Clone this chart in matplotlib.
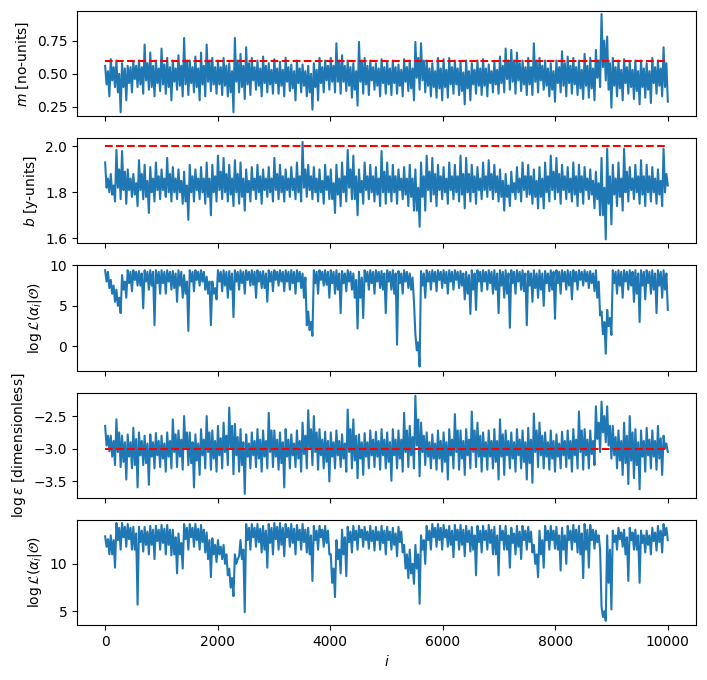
import numpy as np
import matplotlib
matplotlib.use("Agg")
import matplotlib.pyplot as plt

# ---- data: per-100-iteration envelopes ----
# outer extremes (hi / lo) and inner typical band (ihi / ilo)
m_hi = [0.56, 0.61, 0.60, 0.58, 0.56, 0.59, 0.60, 0.72, 0.66, 0.60,
        0.69, 0.62, 0.60, 0.64, 0.77, 0.60, 0.63, 0.66, 0.72, 0.62,
        0.60, 0.62, 0.58, 0.77, 0.65, 0.70, 0.62, 0.60, 0.63, 0.58,
        0.61, 0.59, 0.62, 0.57, 0.60, 0.57, 0.56, 0.58, 0.62, 0.60,
        0.62, 0.73, 0.64, 0.60, 0.58, 0.74, 0.62, 0.60, 0.58, 0.61,
        0.59, 0.60, 0.57, 0.61, 0.60, 0.74, 0.73, 0.60, 0.58, 0.62,
        0.61, 0.62, 0.60, 0.59, 0.60, 0.58, 0.60, 0.61, 0.57, 0.59,
        0.63, 0.69, 0.68, 0.66, 0.60, 0.62, 0.73, 0.62, 0.60, 0.58,
        0.60, 0.67, 0.63, 0.62, 0.60, 0.65, 0.62, 0.68, 0.95, 0.78,
        0.62, 0.60, 0.61, 0.59, 0.60, 0.60, 0.58, 0.62, 0.60, 0.70]
m_lo = [0.33, 0.40, 0.21, 0.30, 0.36, 0.40, 0.35, 0.38, 0.33, 0.37,
        0.35, 0.30, 0.38, 0.33, 0.34, 0.36, 0.30, 0.33, 0.37, 0.35,
        0.34, 0.33, 0.21, 0.36, 0.31, 0.34, 0.38, 0.33, 0.36, 0.35,
        0.35, 0.33, 0.37, 0.30, 0.36, 0.33, 0.23, 0.30, 0.36, 0.38,
        0.36, 0.35, 0.37, 0.32, 0.26, 0.35, 0.34, 0.38, 0.33, 0.35,
        0.34, 0.35, 0.33, 0.37, 0.30, 0.38, 0.36, 0.33, 0.32, 0.30,
        0.32, 0.35, 0.34, 0.27, 0.30, 0.35, 0.34, 0.33, 0.36, 0.35,
        0.36, 0.38, 0.35, 0.37, 0.34, 0.34, 0.36, 0.38, 0.33, 0.29,
        0.36, 0.33, 0.35, 0.34, 0.31, 0.32, 0.30, 0.40, 0.45, 0.245,
        0.33, 0.30, 0.35, 0.31, 0.27, 0.32, 0.28, 0.35, 0.33, 0.29]
m_ihi = [0.52, 0.55, 0.50, 0.54, 0.55, 0.56, 0.55, 0.58, 0.56, 0.54,
         0.57, 0.55, 0.54, 0.56, 0.60, 0.55, 0.54, 0.56, 0.60, 0.55,
         0.55, 0.56, 0.52, 0.60, 0.56, 0.58, 0.55, 0.54, 0.56, 0.53,
         0.54, 0.53, 0.55, 0.52, 0.54, 0.52, 0.50, 0.53, 0.55, 0.56,
         0.56, 0.60, 0.56, 0.55, 0.52, 0.60, 0.56, 0.55, 0.54, 0.55,
         0.54, 0.55, 0.53, 0.55, 0.54, 0.62, 0.60, 0.54, 0.52, 0.54,
         0.53, 0.55, 0.54, 0.51, 0.52, 0.53, 0.54, 0.54, 0.52, 0.53,
         0.56, 0.60, 0.60, 0.58, 0.55, 0.55, 0.60, 0.56, 0.54, 0.52,
         0.55, 0.58, 0.56, 0.55, 0.53, 0.56, 0.54, 0.60, 0.75, 0.58,
         0.55, 0.53, 0.55, 0.53, 0.52, 0.54, 0.52, 0.55, 0.54, 0.58]
m_ilo = [0.42, 0.45, 0.36, 0.40, 0.43, 0.46, 0.42, 0.45, 0.40, 0.43,
         0.42, 0.40, 0.44, 0.41, 0.42, 0.43, 0.40, 0.42, 0.44, 0.42,
         0.42, 0.41, 0.36, 0.44, 0.40, 0.42, 0.45, 0.41, 0.43, 0.42,
         0.43, 0.41, 0.44, 0.39, 0.43, 0.41, 0.36, 0.40, 0.43, 0.45,
         0.44, 0.44, 0.44, 0.41, 0.38, 0.44, 0.42, 0.45, 0.41, 0.43,
         0.42, 0.43, 0.41, 0.44, 0.39, 0.47, 0.45, 0.41, 0.40, 0.39,
         0.40, 0.42, 0.42, 0.37, 0.39, 0.42, 0.41, 0.41, 0.43, 0.42,
         0.43, 0.46, 0.44, 0.45, 0.42, 0.42, 0.44, 0.45, 0.41, 0.38,
         0.43, 0.41, 0.43, 0.42, 0.39, 0.41, 0.39, 0.47, 0.55, 0.38,
         0.41, 0.39, 0.43, 0.40, 0.37, 0.40, 0.38, 0.43, 0.41, 0.40]

b_hi = [1.93, 1.88, 1.985, 1.98, 1.90, 1.88, 1.94, 1.92, 1.91, 1.93,
        1.90, 1.95, 1.91, 1.90, 1.89, 1.92, 1.90, 1.91, 1.93, 1.92,
        1.96, 1.95, 1.92, 1.94, 1.93, 1.90, 1.91, 1.92, 1.90, 1.91,
        1.95, 1.92, 1.90, 1.91, 1.93, 2.02, 1.92, 1.91, 1.90, 1.92,
        1.90, 1.92, 1.93, 1.985, 1.96, 1.90, 1.93, 1.92, 1.91, 1.98,
        1.93, 1.92, 1.90, 1.91, 1.92, 1.90, 1.93, 1.96, 1.95, 1.92,
        1.91, 1.93, 1.92, 1.96, 1.95, 1.92, 1.91, 1.93, 1.94, 1.92,
        1.90, 1.88, 1.89, 1.91, 1.93, 1.92, 1.90, 1.91, 1.93, 1.96,
        1.95, 1.92, 1.91, 1.93, 1.92, 1.91, 1.90, 1.89, 1.95, 1.99,
        1.92, 1.93, 1.99, 1.91, 1.92, 1.94, 1.92, 1.91, 1.90, 1.99]
b_lo = [1.80, 1.76, 1.77, 1.75, 1.78, 1.74, 1.77, 1.71, 1.76, 1.77,
        1.78, 1.76, 1.77, 1.75, 1.68, 1.76, 1.77, 1.75, 1.70, 1.76,
        1.77, 1.76, 1.74, 1.75, 1.72, 1.76, 1.77, 1.75, 1.78, 1.76,
        1.77, 1.76, 1.78, 1.77, 1.76, 1.78, 1.77, 1.76, 1.75, 1.77,
        1.71, 1.74, 1.76, 1.77, 1.70, 1.75, 1.77, 1.76, 1.74, 1.75,
        1.76, 1.75, 1.77, 1.74, 1.72, 1.65, 1.72, 1.76, 1.74, 1.77,
        1.75, 1.77, 1.76, 1.73, 1.76, 1.75, 1.77, 1.78, 1.77, 1.76,
        1.72, 1.74, 1.77, 1.76, 1.78, 1.75, 1.73, 1.73, 1.76, 1.77,
        1.75, 1.77, 1.76, 1.74, 1.75, 1.77, 1.73, 1.70, 1.595, 1.66,
        1.74, 1.72, 1.76, 1.77, 1.75, 1.74, 1.76, 1.75, 1.74, 1.83]
b_ihi = [1.86, 1.83, 1.90, 1.89, 1.86, 1.84, 1.88, 1.85, 1.86, 1.87,
         1.86, 1.88, 1.86, 1.85, 1.83, 1.87, 1.86, 1.86, 1.86, 1.87,
         1.89, 1.88, 1.86, 1.88, 1.86, 1.85, 1.86, 1.87, 1.86, 1.86,
         1.88, 1.87, 1.86, 1.86, 1.87, 1.90, 1.87, 1.86, 1.85, 1.87,
         1.84, 1.86, 1.87, 1.90, 1.87, 1.85, 1.87, 1.87, 1.86, 1.89,
         1.87, 1.87, 1.86, 1.86, 1.86, 1.82, 1.87, 1.89, 1.88, 1.87,
         1.86, 1.87, 1.87, 1.88, 1.88, 1.87, 1.86, 1.87, 1.88, 1.87,
         1.85, 1.83, 1.84, 1.86, 1.87, 1.87, 1.85, 1.86, 1.87, 1.89,
         1.88, 1.87, 1.86, 1.87, 1.87, 1.86, 1.85, 1.84, 1.82, 1.87,
         1.86, 1.86, 1.89, 1.86, 1.87, 1.87, 1.87, 1.86, 1.85, 1.88]
b_ilo = [1.82, 1.79, 1.82, 1.81, 1.81, 1.79, 1.81, 1.78, 1.80, 1.81,
         1.81, 1.80, 1.80, 1.80, 1.76, 1.80, 1.81, 1.80, 1.78, 1.80,
         1.81, 1.80, 1.79, 1.80, 1.78, 1.80, 1.81, 1.80, 1.81, 1.80,
         1.81, 1.80, 1.81, 1.81, 1.80, 1.82, 1.81, 1.80, 1.80, 1.81,
         1.77, 1.79, 1.80, 1.82, 1.77, 1.80, 1.81, 1.80, 1.79, 1.80,
         1.80, 1.80, 1.81, 1.79, 1.78, 1.72, 1.78, 1.81, 1.79, 1.81,
         1.80, 1.81, 1.80, 1.79, 1.80, 1.80, 1.81, 1.81, 1.81, 1.80,
         1.78, 1.78, 1.80, 1.80, 1.81, 1.79, 1.78, 1.78, 1.80, 1.81,
         1.80, 1.81, 1.80, 1.79, 1.80, 1.81, 1.79, 1.77, 1.70, 1.75,
         1.79, 1.78, 1.80, 1.81, 1.80, 1.79, 1.80, 1.80, 1.79, 1.80]

L1_hi = [9.4, 8.2, 7.0, 8.8, 9.4, 9.4, 9.3, 9.4, 9.4, 9.4,
         9.4, 9.4, 9.3, 9.4, 8.8, 9.4, 9.4, 9.4, 8.6, 8.0,
         9.4, 9.4, 9.3, 9.4, 9.4, 9.4, 9.4, 9.4, 9.3, 9.4,
         9.4, 9.4, 9.4, 9.4, 9.4, 9.0, 4.3, 9.4, 9.4, 9.4,
         9.4, 9.4, 9.3, 9.4, 9.0, 9.2, 9.4, 9.4, 9.4, 9.3,
         9.4, 9.4, 9.3, 9.4, 9.0, 1.5, 9.3, 9.4, 9.4, 9.4,
         9.4, 9.4, 9.4, 9.3, 9.2, 9.4, 9.4, 9.4, 9.4, 9.4,
         9.4, 9.4, 9.4, 9.4, 9.4, 9.3, 9.4, 9.4, 9.3, 9.4,
         9.4, 9.4, 9.4, 9.4, 9.4, 9.4, 9.3, 9.4, 4.3, 4.5,
         9.4, 9.4, 9.4, 9.4, 9.4, 9.4, 9.4, 9.4, 9.4, 9.4]
L1_lo = [7.2, 5.5, 4.1, 6.0, 6.8, 7.5, 4.7, 7.0, 2.6, 6.5,
         6.5, 7.0, 5.5, 6.0, 1.9, 6.8, 7.5, 7.0, 2.6, 5.8,
         6.8, 6.0, 3.6, 7.0, 6.5, 7.5, 6.0, 7.2, 5.5, 6.8,
         7.5, 6.8, 7.0, 6.5, 7.2, 2.6, 1.3, 6.5, 7.5, 6.0,
         6.5, 4.1, 6.8, 7.0, 2.2, 3.5, 7.0, 6.5, 7.2, 4.1,
         7.0, 0.2, 6.5, 7.2, 5.5, -2.5, 6.0, 7.0, 6.8, 7.2,
         6.5, 7.0, 7.2, 5.8, 4.0, 4.5, 6.8, 7.0, 6.5, 4.1,
         6.0, 2.3, 6.5, 7.0, 2.6, 5.5, 6.0, 5.0, 6.8, 3.4,
         6.5, 7.0, 5.8, 7.0, 7.5, 7.2, 6.8, 3.8, -0.9, 1.4,
         6.5, 6.0, 7.0, 5.5, 3.0, 5.8, 6.5, 4.1, 6.0, 4.5]
L1_ihi = [9.2, 7.5, 6.0, 8.0, 9.2, 9.2, 9.0, 9.2, 9.2, 9.2,
          9.2, 9.2, 9.0, 9.2, 8.0, 9.2, 9.2, 9.2, 8.0, 7.2,
          9.2, 9.2, 9.0, 9.2, 9.2, 9.2, 9.2, 9.2, 9.0, 9.2,
          9.2, 9.2, 9.2, 9.2, 9.2, 8.5, 3.0, 9.2, 9.2, 9.2,
          9.2, 9.0, 9.0, 9.2, 8.2, 8.5, 9.2, 9.2, 9.2, 9.0,
          9.2, 9.0, 9.0, 9.2, 8.5, 0.5, 9.0, 9.2, 9.2, 9.2,
          9.2, 9.2, 9.2, 9.0, 8.8, 9.0, 9.2, 9.2, 9.2, 9.0,
          9.2, 9.0, 9.2, 9.2, 9.0, 9.0, 9.0, 9.0, 9.0, 9.2,
          9.2, 9.2, 9.2, 9.2, 9.2, 9.2, 9.0, 8.0, 3.0, 3.5,
          9.2, 9.2, 9.2, 9.2, 9.0, 9.2, 9.2, 9.0, 9.2, 9.0]
L1_ilo = [8.0, 6.5, 5.0, 7.0, 7.8, 8.2, 7.5, 8.0, 7.5, 7.8,
          7.8, 8.0, 7.2, 7.5, 6.5, 8.0, 8.2, 8.0, 6.5, 6.5,
          8.0, 7.5, 7.0, 8.0, 7.8, 8.2, 7.6, 8.0, 7.2, 8.0,
          8.2, 8.0, 8.0, 7.8, 8.0, 6.0, 2.0, 7.8, 8.2, 7.6,
          7.8, 7.0, 7.8, 8.0, 6.0, 6.0, 8.0, 7.8, 8.0, 7.0,
          8.0, 6.5, 7.8, 8.0, 7.0, -0.5, 7.5, 8.0, 8.0, 8.2,
          7.8, 8.0, 8.2, 7.5, 6.5, 7.0, 8.0, 8.0, 7.8, 7.0,
          7.5, 6.5, 7.8, 8.0, 6.8, 7.5, 7.2, 7.0, 7.8, 7.0,
          7.8, 8.0, 7.5, 8.0, 8.2, 8.0, 7.8, 6.0, 1.5, 2.5,
          7.8, 7.5, 8.0, 7.5, 6.5, 7.5, 7.8, 7.0, 7.5, 7.0]

eps_hi = [-2.65, -2.80, -2.55, -2.80, -2.78, -2.68, -2.75, -2.80, -2.78, -2.76,
          -2.80, -2.75, -2.55, -2.72, -2.50, -2.75, -2.78, -2.70, -2.50, -2.72,
          -2.65, -2.60, -2.37, -2.62, -2.70, -2.78, -2.75, -2.70, -2.72, -2.45,
          -2.72, -2.75, -2.70, -2.78, -2.72, -2.60, -2.41, -2.50, -2.70, -2.74,
          -2.75, -2.72, -2.78, -2.40, -2.55, -2.78, -2.76, -2.72, -2.74, -2.70,
          -2.75, -2.70, -2.72, -2.45, -2.65, -2.19, -2.60, -2.75, -2.78, -2.72,
          -2.75, -2.70, -2.47, -2.72, -2.70, -2.43, -2.60, -2.75, -2.72, -2.70,
          -2.55, -2.72, -2.75, -2.70, -2.72, -2.68, -2.46, -2.60, -2.75, -2.72,
          -2.78, -2.74, -2.72, -2.70, -2.43, -2.70, -2.72, -2.35, -2.28, -2.35,
          -2.65, -2.72, -2.60, -2.50, -2.70, -2.72, -2.68, -2.72, -2.65, -2.80]
eps_lo = [-3.04, -3.25, -3.28, -3.47, -3.30, -3.59, -3.25, -3.55, -3.30, -3.28,
          -3.35, -3.30, -3.28, -3.32, -3.25, -3.59, -3.40, -3.30, -3.32, -3.35,
          -3.30, -3.25, -3.39, -3.35, -3.69, -3.30, -3.28, -3.35, -3.30, -3.28,
          -3.32, -3.59, -3.30, -3.28, -3.35, -3.30, -3.25, -3.32, -3.30, -3.50,
          -3.30, -3.28, -3.35, -3.30, -3.45, -3.40, -3.30, -3.28, -3.32, -3.30,
          -3.49, -3.30, -3.35, -3.28, -3.30, -3.42, -3.25, -3.30, -3.32, -3.35,
          -3.47, -3.30, -3.32, -3.40, -3.30, -3.28, -3.35, -3.32, -3.30, -3.47,
          -3.40, -3.30, -3.35, -3.30, -3.47, -3.52, -3.28, -3.30, -3.32, -3.35,
          -3.30, -3.28, -3.35, -3.30, -3.32, -3.30, -3.25, -3.05, -2.90, -3.15,
          -3.30, -3.40, -3.54, -3.45, -3.62, -3.35, -3.30, -3.32, -3.40, -3.05]
eps_ihi = [-2.80, -2.88, -2.75, -2.90, -2.90, -2.85, -2.88, -2.92, -2.90, -2.88,
           -2.92, -2.88, -2.78, -2.86, -2.75, -2.90, -2.92, -2.86, -2.75, -2.88,
           -2.84, -2.80, -2.65, -2.82, -2.90, -2.92, -2.88, -2.86, -2.88, -2.72,
           -2.86, -2.90, -2.86, -2.92, -2.88, -2.80, -2.70, -2.75, -2.86, -2.88,
           -2.90, -2.88, -2.92, -2.70, -2.80, -2.90, -2.90, -2.86, -2.88, -2.86,
           -2.90, -2.86, -2.86, -2.72, -2.82, -2.55, -2.80, -2.90, -2.92, -2.88,
           -2.90, -2.86, -2.72, -2.88, -2.86, -2.72, -2.80, -2.90, -2.88, -2.88,
           -2.78, -2.88, -2.90, -2.86, -2.90, -2.86, -2.72, -2.80, -2.90, -2.88,
           -2.92, -2.88, -2.88, -2.86, -2.72, -2.86, -2.88, -2.60, -2.50, -2.65,
           -2.82, -2.88, -2.80, -2.75, -2.90, -2.88, -2.86, -2.88, -2.84, -2.92]
eps_ilo = [-2.95, -3.12, -3.05, -3.20, -3.12, -3.25, -3.10, -3.22, -3.12, -3.10,
           -3.15, -3.12, -3.05, -3.12, -3.00, -3.22, -3.18, -3.10, -3.05, -3.15,
           -3.10, -3.05, -3.00, -3.10, -3.25, -3.12, -3.10, -3.15, -3.12, -3.05,
           -3.12, -3.22, -3.12, -3.10, -3.15, -3.08, -3.00, -3.05, -3.10, -3.20,
           -3.12, -3.10, -3.15, -3.05, -3.18, -3.15, -3.12, -3.10, -3.12, -3.10,
           -3.20, -3.10, -3.15, -3.05, -3.10, -2.95, -3.05, -3.12, -3.15, -3.15,
           -3.20, -3.10, -3.05, -3.15, -3.10, -3.05, -3.12, -3.12, -3.12, -3.20,
           -3.12, -3.10, -3.15, -3.10, -3.20, -3.22, -3.05, -3.10, -3.12, -3.15,
           -3.12, -3.10, -3.15, -3.10, -3.05, -3.10, -3.08, -2.85, -2.75, -2.95,
           -3.10, -3.18, -3.22, -3.18, -3.25, -3.12, -3.10, -3.12, -3.15, -3.00]

L2_hi = [12.9, 13.0, 14.3, 14.3, 14.2, 13.9, 13.9, 13.9, 14.0, 14.0,
         14.1, 14.1, 13.6, 13.2, 14.2, 14.2, 14.2, 14.1, 13.3, 12.7,
         12.5, 12.0, 9.5, 11.0, 12.5, 14.2, 14.2, 14.2, 14.0, 14.2,
         14.3, 14.3, 14.2, 14.2, 14.1, 14.2, 13.8, 14.0, 14.0, 14.0,
         11.0, 12.5, 13.6, 13.9, 14.0, 14.0, 13.9, 14.0, 13.9, 14.0,
         13.9, 13.8, 13.9, 12.0, 11.5, 12.0, 13.0, 14.0, 14.2, 14.2,
         14.1, 14.0, 14.1, 14.1, 14.0, 13.9, 14.0, 14.0, 14.1, 13.9,
         14.0, 14.0, 13.8, 14.0, 14.0, 13.9, 12.0, 13.5, 14.0, 14.0,
         13.9, 13.8, 14.0, 14.1, 14.0, 14.2, 14.1, 13.5, 5.5, 13.0,
         13.5, 13.8, 13.6, 13.8, 13.6, 13.5, 13.5, 13.8, 14.0, 14.2]
L2_lo = [11.0, 9.6, 11.5, 11.8, 11.5, 5.7, 11.3, 11.0, 10.5, 11.5,
         11.0, 10.9, 9.0, 9.5, 11.5, 11.8, 11.5, 11.2, 8.6, 10.2,
         10.5, 8.8, 6.6, 10.8, 4.9, 11.5, 11.8, 11.2, 9.6, 11.0,
         11.5, 10.8, 11.8, 11.0, 11.5, 11.2, 8.2, 11.5, 11.8, 11.0,
         6.5, 9.0, 8.7, 11.2, 11.5, 11.8, 11.6, 11.4, 11.5, 11.0,
         11.5, 10.8, 11.2, 8.5, 7.9, 5.8, 10.0, 11.5, 11.8, 11.5,
         11.8, 10.7, 11.5, 10.8, 11.3, 8.8, 11.2, 11.5, 11.0, 8.8,
         11.5, 9.6, 11.0, 10.5, 11.5, 11.2, 8.6, 9.6, 11.5, 11.6,
         9.3, 10.0, 11.5, 11.2, 8.5, 9.6, 11.6, 11.5, 4.0, 5.2,
         11.5, 11.8, 8.2, 11.5, 8.0, 11.2, 11.0, 11.4, 11.2, 12.5]
L2_ihi = [12.6, 12.5, 13.8, 13.9, 13.8, 13.2, 13.5, 13.4, 13.6, 13.6,
          13.7, 13.6, 12.8, 12.2, 13.8, 13.8, 13.7, 13.6, 12.5, 12.0,
          11.8, 11.0, 8.5, 10.5, 11.5, 13.8, 13.8, 13.7, 13.5, 13.8,
          13.9, 13.8, 13.8, 13.7, 13.6, 13.6, 13.0, 13.5, 13.6, 13.5,
          9.5, 11.5, 12.8, 13.4, 13.5, 13.6, 13.4, 13.5, 13.4, 13.5,
          13.4, 13.2, 13.4, 11.0, 10.0, 11.0, 12.5, 13.5, 13.8, 13.8,
          13.6, 13.5, 13.6, 13.6, 13.5, 13.0, 13.5, 13.5, 13.6, 13.0,
          13.5, 13.0, 13.2, 13.4, 13.5, 13.4, 11.0, 12.5, 13.5, 13.5,
          13.0, 13.0, 13.5, 13.6, 13.2, 13.6, 13.6, 13.0, 5.0, 11.5,
          13.0, 13.3, 12.8, 13.3, 13.0, 13.0, 13.0, 13.3, 13.5, 13.8]
L2_ilo = [11.8, 11.0, 12.5, 12.8, 12.6, 11.5, 12.3, 12.0, 12.0, 12.4,
          12.2, 12.0, 11.0, 11.0, 12.6, 12.8, 12.5, 12.3, 10.5, 11.0,
          11.0, 10.0, 7.5, 10.0, 10.5, 12.5, 12.8, 12.3, 11.5, 12.2,
          12.6, 12.0, 12.8, 12.2, 12.5, 12.3, 11.0, 12.5, 12.8, 12.2,
          8.0, 10.5, 11.0, 12.3, 12.5, 12.8, 12.5, 12.4, 12.5, 12.2,
          12.5, 12.0, 12.3, 9.5, 9.0, 9.5, 11.5, 12.5, 12.8, 12.5,
          12.8, 12.0, 12.5, 12.0, 12.3, 11.5, 12.3, 12.5, 12.2, 11.0,
          12.5, 11.5, 12.2, 11.8, 12.5, 12.3, 10.0, 11.0, 12.5, 12.5,
          11.5, 11.5, 12.5, 12.3, 11.0, 11.5, 12.5, 12.3, 4.4, 8.0,
          12.3, 12.6, 11.0, 12.5, 11.5, 12.2, 12.0, 12.4, 12.3, 13.0]

n_iter = 10000
true_m = 0.6
true_b = 2.0
true_logeps = -3.0

ylabels = ["$m$ [no-units]", "$b$ [y-units]",
           r"$\log\mathcal{L}(\alpha_i|\mathcal{O})$",
           r"$\log\epsilon$ [dimensionless]",
           r"$\log\mathcal{L}(\alpha_i|\mathcal{O})$"]


def trace(hi, ilo, ihi, lo):
    # walk through each block: top extreme, inner low, inner high, bottom extreme
    return np.column_stack([hi, ilo, ihi, lo]).ravel()


series = [trace(m_hi, m_ilo, m_ihi, m_lo),
          trace(b_hi, b_ilo, b_ihi, b_lo),
          trace(L1_hi, L1_ilo, L1_ihi, L1_lo),
          trace(eps_hi, eps_ilo, eps_ihi, eps_lo),
          trace(L2_hi, L2_ilo, L2_ihi, L2_lo)]
truths = [true_m, true_b, None, true_logeps, None]
ylims = [(0.18, 0.973), (1.577, 2.036), (-3.0, 10.0), (-3.75, -2.14), (3.56, 14.65)]

fig, axes = plt.subplots(5, 1, sharex=True, figsize=(7.07, 6.80), dpi=100)
fig.subplots_adjust(left=77 / 707, right=696 / 707, top=1 - 11 / 680,
                    bottom=1 - 625 / 680, hspace=0.208)

for ax, y, t, lab, yl in zip(axes, series, truths, ylabels, ylims):
    x = np.linspace(0, n_iter - 1, len(y))
    ax.plot(x, y, color="C0", lw=1.5)
    if t is not None:
        ax.plot([0, n_iter], [t, t], "r--")
    ax.set_ylabel(lab)
    ax.set_ylim(*yl)

axes[-1].set_xlim(-500, 10500)
axes[-1].set_xlabel("$i$")

fig.savefig("out.png", dpi=100)
